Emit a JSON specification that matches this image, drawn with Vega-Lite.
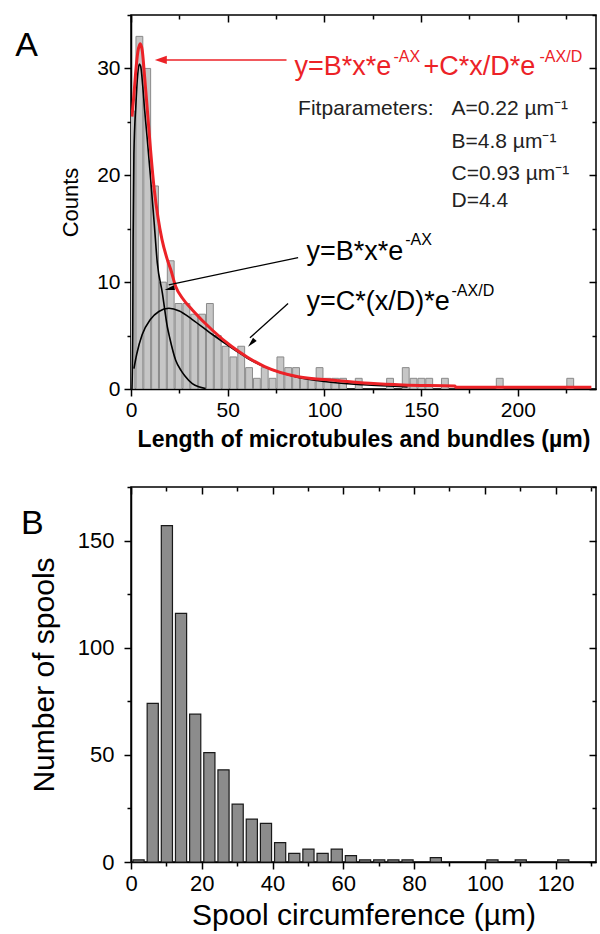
{
  "$schema": "https://vega.github.io/schema/vega-lite/v6.json",
  "padding": {"left": 14, "top": 3, "right": 5, "bottom": 5},
  "spacing": 23,
  "config": {
    "font": "Liberation Sans",
    "view": {"stroke": "black", "strokeWidth": 1.5},
    "axis": {"domainColor": "black", "domainWidth": 1.5, "tickColor": "black", "tickWidth": 1.5, "labelColor": "black", "titleColor": "black", "grid": false, "labelFont": "Liberation Sans", "titleFont": "Liberation Sans", "titleFontWeight": "normal", "labelOverlap": false, "labelFlush": false}
  },
  "datasets": {
    "histA": [
      {"x0": -2, "x1": 2.05, "n": 26}, {"x0": 2.05, "x1": 6.1, "n": 33}, {"x0": 6.1, "x1": 10.15, "n": 30},
      {"x0": 10.15, "x1": 14.2, "n": 19}, {"x0": 14.2, "x1": 18.25, "n": 10}, {"x0": 18.25, "x1": 22.3, "n": 12},
      {"x0": 22.3, "x1": 26.35, "n": 8}, {"x0": 26.35, "x1": 30.4, "n": 8}, {"x0": 30.4, "x1": 34.45, "n": 7},
      {"x0": 34.45, "x1": 38.5, "n": 7}, {"x0": 38.5, "x1": 42.55, "n": 8}, {"x0": 42.55, "x1": 46.6, "n": 5},
      {"x0": 46.6, "x1": 50.65, "n": 4}, {"x0": 50.65, "x1": 54.7, "n": 3}, {"x0": 54.7, "x1": 58.75, "n": 4},
      {"x0": 58.75, "x1": 62.8, "n": 2}, {"x0": 62.8, "x1": 66.85, "n": 1}, {"x0": 66.85, "x1": 70.9, "n": 2},
      {"x0": 70.9, "x1": 74.95, "n": 1}, {"x0": 74.95, "x1": 79, "n": 3}, {"x0": 79, "x1": 83.05, "n": 2},
      {"x0": 83.05, "x1": 87.1, "n": 2}, {"x0": 87.1, "x1": 91.15, "n": 1}, {"x0": 91.15, "x1": 95.2, "n": 1},
      {"x0": 95.2, "x1": 99.25, "n": 2}, {"x0": 99.25, "x1": 103.3, "n": 1}, {"x0": 103.3, "x1": 107.35, "n": 1},
      {"x0": 107.35, "x1": 111.4, "n": 1}, {"x0": 115.45, "x1": 119.5, "n": 1}, {"x0": 131.65, "x1": 135.7, "n": 1},
      {"x0": 139.75, "x1": 143.8, "n": 2}, {"x0": 143.8, "x1": 147.85, "n": 1}, {"x0": 147.85, "x1": 151.9, "n": 1},
      {"x0": 151.9, "x1": 155.95, "n": 1}, {"x0": 160, "x1": 164.05, "n": 1}, {"x0": 188.35, "x1": 192.4, "n": 1},
      {"x0": 224.8, "x1": 228.85, "n": 1}
    ],
    "fitB": [
      {"x": 0.5, "y": 0}, {"x": 0.9, "y": 5}, {"x": 1.1, "y": 14}, {"x": 1.5, "y": 22}, {"x": 2.5, "y": 26.5},
      {"x": 3.5, "y": 29.5}, {"x": 4.3, "y": 30.4}, {"x": 5, "y": 30.2}, {"x": 6, "y": 28.5}, {"x": 7, "y": 26.2},
      {"x": 8.4, "y": 23.4}, {"x": 10, "y": 20}, {"x": 12, "y": 15.5}, {"x": 13.6, "y": 11.8}, {"x": 16.2, "y": 9.0},
      {"x": 18.8, "y": 5.8}, {"x": 20, "y": 4.8}, {"x": 23.1, "y": 2.7}, {"x": 26, "y": 1.7}, {"x": 28, "y": 1.2},
      {"x": 31.7, "y": 0.5}, {"x": 35, "y": 0.2}, {"x": 38.6, "y": 0.05}
    ],
    "fitC": [
      {"x": 1.5, "y": 1.9}, {"x": 3, "y": 3.3}, {"x": 5.8, "y": 5.1}, {"x": 10, "y": 6.5}, {"x": 14.4, "y": 7.25},
      {"x": 19.6, "y": 7.55}, {"x": 25, "y": 7.3}, {"x": 31.7, "y": 6.5}, {"x": 42.1, "y": 5.1}, {"x": 54.1, "y": 3.6},
      {"x": 60, "y": 2.9}, {"x": 70, "y": 2.0}, {"x": 86, "y": 1.1}, {"x": 100, "y": 0.7}, {"x": 120, "y": 0.4},
      {"x": 143, "y": 0.2}
    ],
    "fitTotal": [
      {"x": 0.5, "y": 25.5}, {"x": 1.5, "y": 27.5}, {"x": 2.5, "y": 29.8}, {"x": 3.5, "y": 31.5}, {"x": 4.8, "y": 32.3},
      {"x": 5.8, "y": 31.7}, {"x": 7, "y": 29.3}, {"x": 8.5, "y": 26}, {"x": 10.1, "y": 22.4}, {"x": 12, "y": 18.7},
      {"x": 14, "y": 16}, {"x": 16, "y": 14}, {"x": 18.8, "y": 12.1}, {"x": 20.5, "y": 11.2}, {"x": 23.1, "y": 9.6},
      {"x": 27, "y": 8.4}, {"x": 31.7, "y": 7.4}, {"x": 42.1, "y": 5.5}, {"x": 51.9, "y": 4.0}, {"x": 60, "y": 3.0},
      {"x": 69.1, "y": 2.1}, {"x": 86.4, "y": 1.15}, {"x": 106, "y": 0.8}, {"x": 123.4, "y": 0.53}, {"x": 140.7, "y": 0.37},
      {"x": 167.4, "y": 0.28}, {"x": 168, "y": 0.17}, {"x": 238, "y": 0.16}
    ],
    "histB": [
      {"x0": 0, "x1": 4, "n": 1}, {"x0": 4, "x1": 8, "n": 74}, {"x0": 8, "x1": 12, "n": 157}, {"x0": 12, "x1": 16, "n": 116},
      {"x0": 16, "x1": 20, "n": 69}, {"x0": 20, "x1": 24, "n": 51}, {"x0": 24, "x1": 28, "n": 43}, {"x0": 28, "x1": 32, "n": 27},
      {"x0": 32, "x1": 36, "n": 20}, {"x0": 36, "x1": 40, "n": 18}, {"x0": 40, "x1": 44, "n": 9}, {"x0": 44, "x1": 48, "n": 4},
      {"x0": 48, "x1": 52, "n": 6}, {"x0": 52, "x1": 56, "n": 4}, {"x0": 56, "x1": 60, "n": 6}, {"x0": 60, "x1": 64, "n": 3},
      {"x0": 64, "x1": 68, "n": 1}, {"x0": 68, "x1": 72, "n": 1}, {"x0": 72, "x1": 76, "n": 1}, {"x0": 76, "x1": 80, "n": 1},
      {"x0": 84, "x1": 88, "n": 2}, {"x0": 100, "x1": 104, "n": 1}, {"x0": 108, "x1": 112, "n": 1}, {"x0": 120, "x1": 124, "n": 1}
    ]
  },
  "vconcat": [
    {
      "width": 465,
      "height": 374,
      "resolve": {"axis": {"x": "independent", "y": "independent"}},
      "layer": [
        {
          "data": {"name": "histA"},
          "mark": {"type": "bar", "fill": "#c6c6c6", "stroke": "#8a8a8a", "strokeWidth": 1, "binSpacing": 1, "clip": true},
          "encoding": {
            "x": {"field": "x0", "type": "quantitative", "bin": "binned",
                  "scale": {"domain": [0, 240.4], "nice": false, "zero": false},
                  "axis": {"orient": "bottom", "values": [0, 25, 50, 75, 100, 125, 150, 175, 200, 225],
                           "labelExpr": "datum.value % 50 == 0 ? datum.label : ''",
                           "tickSize": {"condition": {"test": "datum.value % 50 == 0", "value": 7}, "value": 4},
                           "labelFontSize": 21, "labelPadding": 3,
                           "title": "Length of microtubules and bundles (µm)", "titleFontSize": 23, "titleFontWeight": "bold", "titlePadding": 8}},
            "x2": {"field": "x1"},
            "y": {"field": "n", "type": "quantitative",
                  "scale": {"domain": [0, 35], "nice": false},
                  "axis": {"orient": "left", "values": [0, 5, 10, 15, 20, 25, 30, 35],
                           "labelExpr": "datum.value % 10 == 0 ? datum.label : ''",
                           "tickSize": {"condition": {"test": "datum.value % 10 == 0", "value": 7}, "value": 4},
                           "labelFontSize": 21, "labelPadding": 4,
                           "title": "Counts", "titleFontSize": 22, "titlePadding": 14}}
          }
        },
        {
          "data": {"name": "fitB"},
          "mark": {"type": "line", "color": "black", "strokeWidth": 1.6, "interpolate": "monotone", "clip": true},
          "encoding": {
            "x": {"field": "x", "type": "quantitative",
                  "axis": {"orient": "top", "values": [0, 25, 50, 75, 100, 125, 150, 175, 200, 225], "labels": false, "title": null, "domain": false,
                           "tickSize": {"condition": {"test": "datum.value % 50 == 0", "value": -7}, "value": -4}}},
            "y": {"field": "y", "type": "quantitative",
                  "axis": {"orient": "right", "values": [0, 5, 10, 15, 20, 25, 30, 35], "labels": false, "title": null, "domain": false,
                           "tickSize": {"condition": {"test": "datum.value % 10 == 0", "value": -7}, "value": -4}}}
          }
        },
        {
          "data": {"name": "fitC"},
          "mark": {"type": "line", "color": "black", "strokeWidth": 1.6, "interpolate": "monotone", "clip": true},
          "encoding": {
            "x": {"field": "x", "type": "quantitative", "axis": null},
            "y": {"field": "y", "type": "quantitative", "axis": null}
          }
        },
        {
          "data": {"name": "fitTotal"},
          "mark": {"type": "line", "color": "#ec2227", "strokeWidth": 3, "interpolate": "monotone", "clip": true},
          "encoding": {
            "x": {"field": "x", "type": "quantitative", "axis": null},
            "y": {"field": "y", "type": "quantitative", "axis": null}
          }
        },
        {
          "data": {"values": [{"x": 80.4, "y": 30.8, "x2": 14, "y2": 30.8}]},
          "mark": {"type": "rule", "color": "#ec2227", "strokeWidth": 1.5},
          "encoding": {
            "x": {"field": "x", "type": "quantitative", "axis": null},
            "y": {"field": "y", "type": "quantitative", "axis": null},
            "x2": {"field": "x2"}, "y2": {"field": "y2"}
          }
        },
        {
          "data": {"values": [{"x": 12.3, "y": 30.8}]},
          "mark": {"type": "point", "shape": "M0,0L-0.7,2L0.7,2Z", "angle": 270, "size": 144, "filled": true, "color": "#ec2227", "opacity": 1},
          "encoding": {
            "x": {"field": "x", "type": "quantitative", "axis": null},
            "y": {"field": "y", "type": "quantitative", "axis": null}
          }
        },
        {
          "data": {"values": [{"x": 86.4, "y": 12.3, "x2": 19.5, "y2": 9.75}, {"x": 81.2, "y": 8.0, "x2": 61.5, "y2": 4.8}]},
          "mark": {"type": "rule", "color": "black", "strokeWidth": 1.3},
          "encoding": {
            "x": {"field": "x", "type": "quantitative", "axis": null},
            "y": {"field": "y", "type": "quantitative", "axis": null},
            "x2": {"field": "x2"}, "y2": {"field": "y2"}
          }
        },
        {
          "data": {"values": [{"x": 17.4, "y": 9.26}]},
          "mark": {"type": "point", "shape": "M0,0L-0.5,2L0.5,2Z", "angle": 256, "size": 100, "filled": true, "color": "black", "opacity": 1},
          "encoding": {
            "x": {"field": "x", "type": "quantitative", "axis": null},
            "y": {"field": "y", "type": "quantitative", "axis": null}
          }
        },
        {
          "data": {"values": [{"x": 60.5, "y": 3.96}]},
          "mark": {"type": "point", "shape": "M0,0L-0.5,2L0.5,2Z", "angle": 223, "size": 100, "filled": true, "color": "black", "opacity": 1},
          "encoding": {
            "x": {"field": "x", "type": "quantitative", "axis": null},
            "y": {"field": "y", "type": "quantitative", "axis": null}
          }
        },
        {
          "data": {"values": [{"x": 84.5, "y": 29.37, "t": "y=B*x*e"}, {"x": 151.2, "y": 29.37, "t": "+C*x/D*e"}]},
          "mark": {"type": "text", "align": "left", "baseline": "alphabetic", "fontSize": 27, "color": "#ec2227"},
          "encoding": {
            "x": {"field": "x", "type": "quantitative", "axis": null},
            "y": {"field": "y", "type": "quantitative", "axis": null},
            "text": {"field": "t"}
          }
        },
        {
          "data": {"values": [{"x": 135.7, "y": 30.62, "t": "-AX"}, {"x": 211.2, "y": 30.62, "t": "-AX/D"}]},
          "mark": {"type": "text", "align": "left", "baseline": "alphabetic", "fontSize": 16, "color": "#ec2227"},
          "encoding": {
            "x": {"field": "x", "type": "quantitative", "axis": null},
            "y": {"field": "y", "type": "quantitative", "axis": null},
            "text": {"field": "t"}
          }
        },
        {
          "data": {"values": [{"x": 90.7, "y": 12.1, "t": "y=B*x*e"}, {"x": 90.7, "y": 7.39, "t": "y=C*(x/D)*e"}]},
          "mark": {"type": "text", "align": "left", "baseline": "alphabetic", "fontSize": 27, "color": "black"},
          "encoding": {
            "x": {"field": "x", "type": "quantitative", "axis": null},
            "y": {"field": "y", "type": "quantitative", "axis": null},
            "text": {"field": "t"}
          }
        },
        {
          "data": {"values": [{"x": 141.8, "y": 13.5, "t": "-AX"}, {"x": 165.7, "y": 8.7, "t": "-AX/D"}]},
          "mark": {"type": "text", "align": "left", "baseline": "alphabetic", "fontSize": 16, "color": "black"},
          "encoding": {
            "x": {"field": "x", "type": "quantitative", "axis": null},
            "y": {"field": "y", "type": "quantitative", "axis": null},
            "text": {"field": "t"}
          }
        },
        {
          "data": {"values": [
            {"x": 86.4, "y": 25.63, "t": "Fitparameters:"},
            {"x": 165.7, "y": 25.63, "t": "A=0.22 µm⁻¹"},
            {"x": 165.7, "y": 22.52, "t": "B=4.8 µm⁻¹"},
            {"x": 165.7, "y": 19.55, "t": "C=0.93 µm⁻¹"},
            {"x": 165.7, "y": 17.0, "t": "D=4.4"}
          ]},
          "mark": {"type": "text", "align": "left", "baseline": "alphabetic", "fontSize": 21, "color": "#222222"},
          "encoding": {
            "x": {"field": "x", "type": "quantitative", "axis": null},
            "y": {"field": "y", "type": "quantitative", "axis": null},
            "text": {"field": "t"}
          }
        },
        {
          "data": {"values": [{"x": -59.8, "y": 31.2, "t": "A"}]},
          "mark": {"type": "text", "align": "left", "baseline": "alphabetic", "fontSize": 34, "color": "black"},
          "encoding": {
            "x": {"field": "x", "type": "quantitative", "axis": null},
            "y": {"field": "y", "type": "quantitative", "axis": null},
            "text": {"field": "t"}
          }
        }
      ]
    },
    {
      "width": 465,
      "height": 375,
      "resolve": {"axis": {"x": "independent", "y": "independent"}},
      "layer": [
        {
          "data": {"name": "histB"},
          "mark": {"type": "bar", "fill": "#8c8c8c", "stroke": "#1a1a1a", "strokeWidth": 1.2, "binSpacing": 3},
          "encoding": {
            "x": {"field": "x0", "type": "quantitative", "bin": "binned",
                  "scale": {"domain": [0, 131.4], "nice": false, "zero": false},
                  "axis": {"orient": "bottom", "values": [0, 10, 20, 30, 40, 50, 60, 70, 80, 90, 100, 110, 120, 130],
                           "labelExpr": "datum.value % 20 == 0 ? datum.label : ''",
                           "tickSize": {"condition": {"test": "datum.value % 20 == 0", "value": 7}, "value": 4},
                           "labelFontSize": 22, "labelPadding": 4,
                           "title": "Spool circumference (µm)", "titleFontSize": 30, "titlePadding": 6}},
            "x2": {"field": "x1"},
            "y": {"field": "n", "type": "quantitative",
                  "scale": {"domain": [0, 175], "nice": false},
                  "axis": {"orient": "left", "values": [0, 25, 50, 75, 100, 125, 150, 175],
                           "labelExpr": "datum.value % 50 == 0 ? datum.label : ''",
                           "tickSize": {"condition": {"test": "datum.value % 50 == 0", "value": 7}, "value": 4},
                           "labelFontSize": 22, "labelPadding": 10,
                           "title": "Number of spools", "titleFontSize": 30, "titlePadding": 18}}
          }
        },
        {
          "data": {"name": "histB"},
          "mark": {"type": "point", "opacity": 0},
          "encoding": {
            "x": {"field": "x0", "type": "quantitative",
                  "axis": {"orient": "top", "values": [0, 10, 20, 30, 40, 50, 60, 70, 80, 90, 100, 110, 120, 130], "labels": false, "title": null, "domain": false,
                           "tickSize": {"condition": {"test": "datum.value % 20 == 0", "value": -7}, "value": -4}}},
            "y": {"field": "n", "type": "quantitative",
                  "axis": {"orient": "right", "values": [0, 25, 50, 75, 100, 125, 150, 175], "labels": false, "title": null, "domain": false,
                           "tickSize": {"condition": {"test": "datum.value % 50 == 0", "value": -7}, "value": -4}}}
          }
        },
        {
          "data": {"values": [{"x": -31.1, "y": 153.1, "t": "B"}]},
          "mark": {"type": "text", "align": "left", "baseline": "alphabetic", "fontSize": 34, "color": "black"},
          "encoding": {
            "x": {"field": "x", "type": "quantitative", "axis": null},
            "y": {"field": "y", "type": "quantitative", "axis": null},
            "text": {"field": "t"}
          }
        }
      ]
    }
  ]
}
